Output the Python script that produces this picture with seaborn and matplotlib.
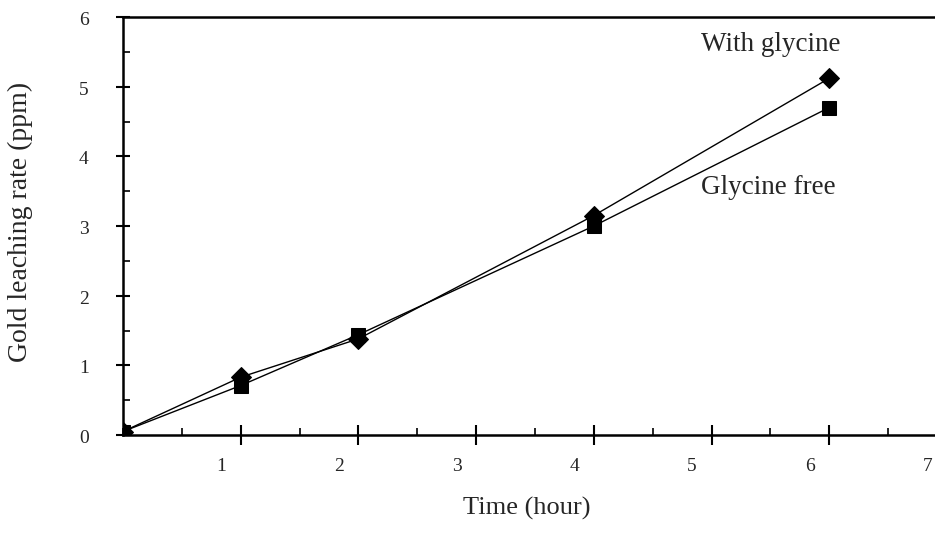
import matplotlib
matplotlib.use("Agg")
import matplotlib.pyplot as plt
import seaborn as sns
import pandas as pd
from matplotlib.ticker import MultipleLocator

time_hours = [0, 1, 2, 4, 6]
with_glycine = [0.05, 0.83, 1.38, 3.15, 5.12]
glycine_free = [0.05, 0.71, 1.44, 3.00, 4.70]
x_tick_labels = ["1", "2", "3", "4", "5", "6", "7"]
y_tick_labels = ["0", "1", "2", "3", "4", "5", "6"]

df = pd.DataFrame({
    "Time": time_hours * 2,
    "Rate": with_glycine + glycine_free,
    "Series": ["With glycine"] * len(time_hours) + ["Glycine free"] * len(time_hours),
})

sns.set_style("white")
plt.rcParams["font.family"] = ["Liberation Serif", "DejaVu Serif"]

fig = plt.figure(figsize=(9.35, 5.45), dpi=100)
W, H = 935, 545
left, right, top, bottom = 123, 935, 17, 435
ax = fig.add_axes([left / W, 1 - bottom / H, (right - left) / W, (bottom - top) / H])

sns.lineplot(data=df, x="Time", y="Rate", hue="Series", style="Series",
             markers={"With glycine": "D", "Glycine free": "s"}, dashes=False,
             palette={"With glycine": "black", "Glycine free": "black"},
             markersize=10, linewidth=1.0, markeredgecolor="black",
             legend=False, ax=ax)

ax.set_xlim(0, (right - left) / 117.7)
ax.set_ylim(0, 6)

for s in ["left", "bottom", "top"]:
    ax.spines[s].set_visible(True)
    ax.spines[s].set_color("black")
    ax.spines[s].set_linewidth(1.8)
ax.spines["right"].set_visible(False)

ax.set_xticks(range(1, 7))
ax.set_xticklabels([])
ax.xaxis.set_minor_locator(MultipleLocator(0.5))
ax.set_yticks(range(0, 7))
ax.set_yticklabels([])
ax.yaxis.set_minor_locator(MultipleLocator(0.5))
ax.tick_params(axis="x", which="major", direction="inout", length=14, width=1.5, color="black")
ax.tick_params(axis="y", which="major", direction="inout", length=10, width=1.5, color="black")
ax.tick_params(axis="both", which="minor", direction="in", length=5, width=1.2, color="black")
ax.tick_params(top=False, right=False, which="both")
ax.tick_params(axis="x", which="both", bottom=True)
ax.tick_params(axis="y", which="both", left=True)

# tick labels placed as in the original (x labels sit left of their ticks)
for i, lab in enumerate(x_tick_labels, start=1):
    ax.text(i - 0.165, -0.055, lab, transform=ax.get_xaxis_transform(),
            ha="center", va="top", fontsize=14, clip_on=False)
for i, lab in enumerate(y_tick_labels):
    ax.text(-0.29, i - 0.05, lab, transform=ax.transData,
            ha="right", va="center", fontsize=14, clip_on=False)

ax.set_xlabel("")
ax.set_ylabel("")
fig.text(527 / W, 1 - 508 / H, "Time (hour)", ha="center", va="center", fontsize=19)
fig.text(20 / W, 1 - 222 / H, "Gold leaching rate (ppm)", ha="center", va="center",
         rotation=90, fontsize=20)

ax.text(5.5, 5.6, "With glycine", ha="center", va="center", fontsize=19.5)
ax.text(5.48, 3.55, "Glycine free", ha="center", va="center", fontsize=19.5)

fig.savefig("out.png", dpi=100)
